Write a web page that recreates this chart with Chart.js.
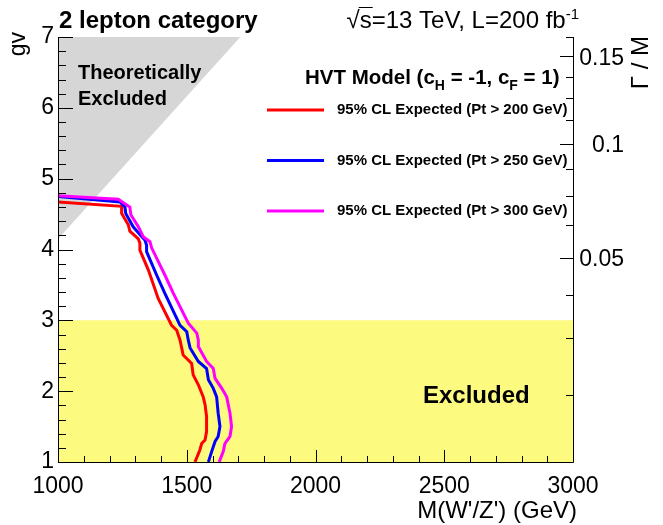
<!DOCTYPE html>
<html>
<head>
<meta charset="utf-8">
<script src="https://cdn.jsdelivr.net/npm/chart.js@4.4.0/dist/chart.umd.min.js"></script>
<style>
  body { margin: 0; background: #fff; }
  canvas { display: block; }
</style>
</head>
<body>
<canvas id="myChart" width="663" height="525"></canvas>
<script>
// expected 95% CL limits, mass (GeV) vs gv, one pair of arrays per Pt cut
var massPt200 = [1000, 1248, 1247, 1273, 1279, 1312, 1318, 1318, 1351, 1389, 1441, 1461, 1474, 1486, 1519, 1525, 1545, 1564, 1571, 1577, 1577, 1571, 1558, 1551, 1532];
var gvPt200   = [4.67, 4.61, 4.51, 4.35, 4.26, 4.15, 4.09, 3.99, 3.71, 3.31, 2.93, 2.86, 2.72, 2.51, 2.39, 2.23, 2.09, 1.92, 1.81, 1.64, 1.43, 1.31, 1.26, 1.17, 1.0];

var massPt250 = [1000, 1241, 1260, 1263, 1292, 1318, 1338, 1344, 1344, 1383, 1415, 1474, 1500, 1506, 1513, 1545, 1577, 1584, 1603, 1616, 1622, 1629, 1622, 1610, 1597, 1584];
var gvPt250   = [4.75, 4.67, 4.60, 4.51, 4.32, 4.21, 4.13, 4.06, 3.97, 3.64, 3.38, 2.93, 2.84, 2.72, 2.61, 2.42, 2.32, 2.16, 2.04, 1.92, 1.69, 1.50, 1.36, 1.29, 1.15, 1.0];

var massPt300 = [1000, 1234, 1279, 1283, 1312, 1331, 1357, 1364, 1415, 1448, 1506, 1539, 1545, 1545, 1577, 1603, 1610, 1636, 1655, 1668, 1674, 1668, 1648, 1642, 1626];
var gvPt300   = [4.76, 4.71, 4.60, 4.49, 4.32, 4.18, 4.11, 4.02, 3.64, 3.38, 2.96, 2.82, 2.72, 2.63, 2.42, 2.32, 2.18, 2.04, 1.92, 1.69, 1.50, 1.36, 1.26, 1.15, 1.0];

// shaded regions
var theoryMass = [1000, 1708];
var theoryGv   = [4.15, 7];
var excludedMass = [1000, 3000];
var excludedGv   = [3, 3];

// axes
var xTicks = [1000, 1500, 2000, 2500, 3000];
var yTicks = [1, 2, 3, 4, 5, 6, 7];
var widthTicks = [0.05, 0.1, 0.15];          // Gamma/M labels on right axis
var widthPerGv2 = 1 / (96 * Math.PI);        // Gamma/M = gv^2 / (96 pi)

var FONT = "'Liberation Sans', Arial, sans-serif";

function toPoints(xs, ys) {
  return xs.map(function (x, i) { return { x: x, y: ys[i] }; });
}

// draws text pieces one after another (for sub/superscripts)
function drawParts(ctx, parts, x, y) {
  parts.forEach(function (p) {
    ctx.font = p.font;
    ctx.fillText(p.text, x, y + (p.dy || 0));
    x += ctx.measureText(p.text).width;
  });
  return x;
}
function partsWidth(ctx, parts) {
  var w = 0;
  parts.forEach(function (p) { ctx.font = p.font; w += ctx.measureText(p.text).width; });
  return w;
}

var rootStyle = {
  id: 'rootStyle',
  beforeDraw: function (chart) {
    var ctx = chart.ctx;
    ctx.save();
    ctx.fillStyle = '#fff';
    ctx.fillRect(0, 0, chart.width, chart.height);
    ctx.restore();
  },
  afterDraw: function (chart) {
    var ctx = chart.ctx;
    var a = chart.chartArea;
    var xs = chart.scales.x, ys = chart.scales.y;
    ctx.save();
    ctx.strokeStyle = '#000';
    ctx.lineWidth = 1;

    // axis lines (left, bottom, right)
    ctx.beginPath();
    ctx.moveTo(a.left + 0.5, a.top);
    ctx.lineTo(a.left + 0.5, a.bottom + 0.5);
    ctx.lineTo(a.right + 0.5, a.bottom + 0.5);
    ctx.lineTo(a.right + 0.5, a.top);
    ctx.stroke();

    // left ticks
    ctx.beginPath();
    for (var i = 0; i <= 30; i++) {
      var v = 1 + i * 0.2;
      var py = Math.round(ys.getPixelForValue(v)) + 0.5;
      var len = (i % 5 === 0) ? 15 : 8;
      ctx.moveTo(a.left, py);
      ctx.lineTo(a.left + len, py);
    }
    // bottom ticks
    for (var m = 1000; m <= 3000; m += 100) {
      var px = Math.round(xs.getPixelForValue(m)) + 0.5;
      var l2 = (m % 500 === 0) ? 12 : 6;
      ctx.moveTo(px, a.bottom);
      ctx.lineTo(px, a.bottom - l2);
    }
    // right ticks (Gamma/M)
    for (var k = 1; k <= 14; k++) {
      var w = k * 0.0125;
      var g = Math.sqrt(w / widthPerGv2);
      if (g < 1 || g > 7.02) continue;
      var py2 = Math.round(ys.getPixelForValue(g)) + 0.5;
      var l3 = (k % 4 === 0) ? 13 : 7;
      ctx.moveTo(a.right, py2);
      ctx.lineTo(a.right - l3, py2);
    }
    ctx.stroke();

    ctx.fillStyle = '#000';
    // tick labels
    ctx.font = '23px ' + FONT;
    ctx.textBaseline = 'middle';
    ctx.textAlign = 'right';
    yTicks.forEach(function (v) {
      ctx.fillText(String(v), a.left - 4, ys.getPixelForValue(v));
    });
    ctx.textAlign = 'center';
    xTicks.forEach(function (m) {
      ctx.fillText(String(m), xs.getPixelForValue(m), a.bottom + 25);
    });
    ctx.textAlign = 'right';
    widthTicks.forEach(function (w) {
      var g = Math.sqrt(w / widthPerGv2);
      ctx.fillText(String(w), 624, ys.getPixelForValue(g) + 2);
    });

    // axis titles
    ctx.font = '24px ' + FONT;
    ctx.textAlign = 'right';
    ctx.fillText("M(W'/Z') (GeV)", 577, 511);

    ctx.save();
    ctx.translate(19, 32);
    ctx.rotate(-Math.PI / 2);
    ctx.textAlign = 'right';
    ctx.font = '23px ' + FONT;
    ctx.fillText('gv', 0, 0);
    ctx.restore();

    ctx.save();
    ctx.translate(641, 36);
    ctx.rotate(-Math.PI / 2);
    ctx.textAlign = 'right';
    ctx.font = '24px ' + FONT;
    ctx.fillText('\u0393 / M', 0, 0);
    ctx.restore();

    // header
    ctx.textBaseline = 'alphabetic';
    ctx.textAlign = 'left';
    ctx.font = 'bold 24px ' + FONT;
    ctx.fillText('2 lepton category', 59, 28);

    var reg = '24px ' + FONT, sup = '15px ' + FONT;
    var head = [
      { text: '\u221A', font: reg },
      { text: 's=13 TeV, L=200 fb', font: reg },
      { text: '-1', font: sup, dy: -9 }
    ];
    var hx = 579 - partsWidth(ctx, head);
    ctx.font = reg;
    var sqrtW = ctx.measureText('\u221A').width;
    var sW = ctx.measureText('s').width;
    drawParts(ctx, head, hx, 28);
    ctx.beginPath();
    ctx.moveTo(hx + sqrtW - 1, 7.5);
    ctx.lineTo(hx + sqrtW + sW + 1, 7.5);
    ctx.stroke();

    // theoretically excluded label
    ctx.font = 'bold 20px ' + FONT;
    ctx.textBaseline = 'middle';
    ctx.fillText('Theoretically', 78, 73);
    ctx.fillText('Excluded', 78, 99);

    // model title
    var b20 = 'bold 20.5px ' + FONT, b14 = 'bold 14px ' + FONT;
    ctx.textBaseline = 'alphabetic';
    drawParts(ctx, [
      { text: 'HVT Model (c', font: b20 },
      { text: 'H', font: b14, dy: 6 },
      { text: ' = -1, c', font: b20 },
      { text: 'F', font: b14, dy: 6 },
      { text: ' = 1)', font: b20 }
    ], 305, 84);

    // legend
    ctx.textBaseline = 'middle';
    ctx.font = 'bold 15px ' + FONT;
    chart.data.datasets.forEach(function (ds, i) {
      if (!ds.legendText) return;
      var ly = 110 + (i - 2) * 50.5;
      ctx.strokeStyle = ds.borderColor;
      ctx.lineWidth = 3;
      ctx.beginPath();
      ctx.moveTo(267, ly);
      ctx.lineTo(324, ly);
      ctx.stroke();
      ctx.fillText(ds.legendText, 337, ly);
    });

    // excluded label
    ctx.font = 'bold 24px ' + FONT;
    ctx.fillText('Excluded', 423, 396);

    ctx.restore();
  }
};

var myChart = new Chart(document.getElementById('myChart'), {
  type: 'line',
  data: {
    datasets: [
      {
        // yellow excluded band below gv = 3
        data: toPoints(excludedMass, excludedGv),
        borderWidth: 0,
        pointRadius: 0,
        backgroundColor: 'rgb(253,250,128)',
        fill: 'start',
        order: 10
      },
      {
        // theoretically excluded region
        data: toPoints(theoryMass, theoryGv),
        borderWidth: 0,
        pointRadius: 0,
        backgroundColor: 'rgb(214,214,214)',
        fill: 'end',
        order: 9
      },
      {
        data: toPoints(massPt200, gvPt200),
        borderColor: '#ff0000',
        borderWidth: 3,
        pointRadius: 0,
        fill: false,
        legendText: '95% CL Expected (Pt > 200 GeV)',
        order: 3
      },
      {
        data: toPoints(massPt250, gvPt250),
        borderColor: '#0000ff',
        borderWidth: 3,
        pointRadius: 0,
        fill: false,
        legendText: '95% CL Expected (Pt > 250 GeV)',
        order: 2
      },
      {
        data: toPoints(massPt300, gvPt300),
        borderColor: '#ff00ff',
        borderWidth: 3,
        pointRadius: 0,
        fill: false,
        legendText: '95% CL Expected (Pt > 300 GeV)',
        order: 1
      }
    ]
  },
  options: {
    responsive: false,
    animation: false,
    layout: { padding: { left: 58, right: 90, top: 37, bottom: 63 } },
    scales: {
      x: { type: 'linear', min: 1000, max: 3000, display: false },
      y: { type: 'linear', min: 1, max: 7, display: false }
    },
    elements: { line: { tension: 0, borderJoinStyle: 'miter' } },
    plugins: {
      legend: { display: false },
      tooltip: { enabled: false }
    }
  },
  plugins: [rootStyle]
});
</script>
</body>
</html>
